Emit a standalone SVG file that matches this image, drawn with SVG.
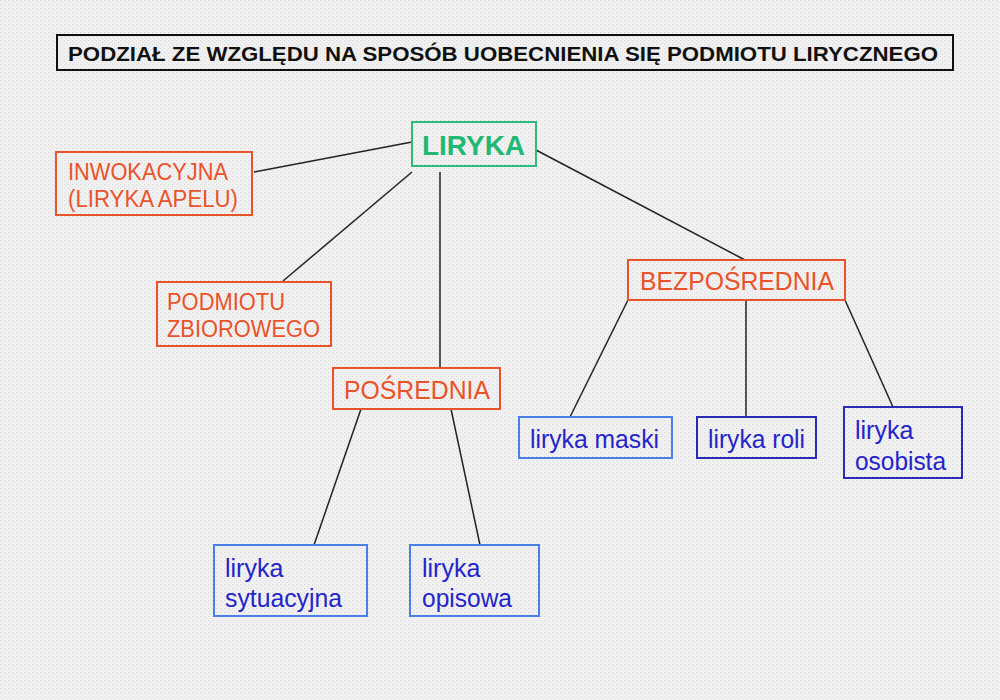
<svg xmlns="http://www.w3.org/2000/svg" width="1000" height="700" viewBox="0 0 1000 700">
<defs>
<pattern id="bgp" width="4" height="4" patternUnits="userSpaceOnUse">
<rect width="4" height="4" fill="#f1f1f1"/>
<rect x="0" y="0" width="1" height="1" fill="#d4d4d4"/>
<rect x="2" y="2" width="1" height="1" fill="#dadada"/>
</pattern>
<style>
.box{fill:none;stroke-width:2}
.org{stroke:#e8532a}
.lb{stroke:#4a80e6}
.db{stroke:#2a2ab8}
.t{font-family:"Liberation Sans",Arial,sans-serif;font-size:25px}
.s{font-size:23px}
.to{fill:#e8532a}
.tb{fill:#2424c8}
.con line{stroke:#222;stroke-width:1.5}
</style>
</defs>
<rect width="1000" height="700" fill="url(#bgp)"/>
<g id="title">
<rect x="57" y="35" width="896" height="35" fill="none" stroke="#111" stroke-width="2"/>
<text x="68" y="61" font-family="Liberation Sans,Arial,sans-serif" font-size="20" font-weight="bold" fill="#111" textLength="870" lengthAdjust="spacingAndGlyphs">PODZIAŁ ZE WZGLĘDU NA SPOSÓB UOBECNIENIA SIĘ PODMIOTU LIRYCZNEGO</text>
</g>
<g class="con">
<line x1="412" y1="142" x2="254" y2="172"/>
<line x1="412" y1="172" x2="283" y2="281"/>
<line x1="440" y1="172" x2="440" y2="368"/>
<line x1="536" y1="150" x2="745" y2="260"/>
<line x1="628" y1="300" x2="570" y2="417"/>
<line x1="746" y1="300" x2="746" y2="417"/>
<line x1="845" y1="300" x2="893" y2="407"/>
<line x1="361" y1="409" x2="314" y2="545"/>
<line x1="451" y1="409" x2="480" y2="545"/>
</g>
<g id="liryka">
<rect x="412" y="122" width="124" height="44" class="box" stroke="#2dbb7a"/>
<text x="422" y="155" font-family="Liberation Sans,Arial,sans-serif" font-size="28" font-weight="bold" fill="#22b873" textLength="103" lengthAdjust="spacingAndGlyphs">LIRYKA</text>
</g>
<g id="inwokacyjna">
<rect x="56" y="152" width="196" height="63" class="box org"/>
<text class="t s to" x="68" y="180" textLength="160" lengthAdjust="spacingAndGlyphs">INWOKACYJNA</text>
<text class="t s to" x="68" y="207" textLength="170" lengthAdjust="spacingAndGlyphs">(LIRYKA APELU)</text>
</g>
<g id="podmiotu">
<rect x="157" y="282" width="174" height="64" class="box org"/>
<text class="t s to" x="167" y="310" textLength="118" lengthAdjust="spacingAndGlyphs">PODMIOTU</text>
<text class="t s to" x="167" y="337" textLength="153" lengthAdjust="spacingAndGlyphs">ZBIOROWEGO</text>
</g>
<g id="posrednia">
<rect x="333" y="368" width="167" height="41" class="box org"/>
<text class="t to" x="344" y="399" textLength="146" lengthAdjust="spacingAndGlyphs">POŚREDNIA</text>
</g>
<g id="bezposrednia">
<rect x="628" y="260" width="217" height="40" class="box org"/>
<text class="t to" x="640" y="290" textLength="194" lengthAdjust="spacingAndGlyphs">BEZPOŚREDNIA</text>
</g>
<g id="maski">
<rect x="519" y="417" width="153" height="41" class="box lb"/>
<text class="t tb" x="530" y="448" textLength="129" lengthAdjust="spacingAndGlyphs">liryka maski</text>
</g>
<g id="roli">
<rect x="697" y="417" width="119" height="41" class="box db"/>
<text class="t tb" x="708" y="448" textLength="97" lengthAdjust="spacingAndGlyphs">liryka roli</text>
</g>
<g id="osobista">
<rect x="844" y="407" width="118" height="71" class="box db"/>
<text class="t tb" x="855" y="439">liryka</text>
<text class="t tb" x="855" y="470" textLength="91" lengthAdjust="spacingAndGlyphs">osobista</text>
</g>
<g id="sytuacyjna">
<rect x="214" y="545" width="153" height="71" class="box lb"/>
<text class="t tb" x="225" y="577">liryka</text>
<text class="t tb" x="225" y="607" textLength="117" lengthAdjust="spacingAndGlyphs">sytuacyjna</text>
</g>
<g id="opisowa">
<rect x="410" y="545" width="129" height="71" class="box lb"/>
<text class="t tb" x="422" y="577">liryka</text>
<text class="t tb" x="422" y="607" textLength="90" lengthAdjust="spacingAndGlyphs">opisowa</text>
</g>
</svg>
